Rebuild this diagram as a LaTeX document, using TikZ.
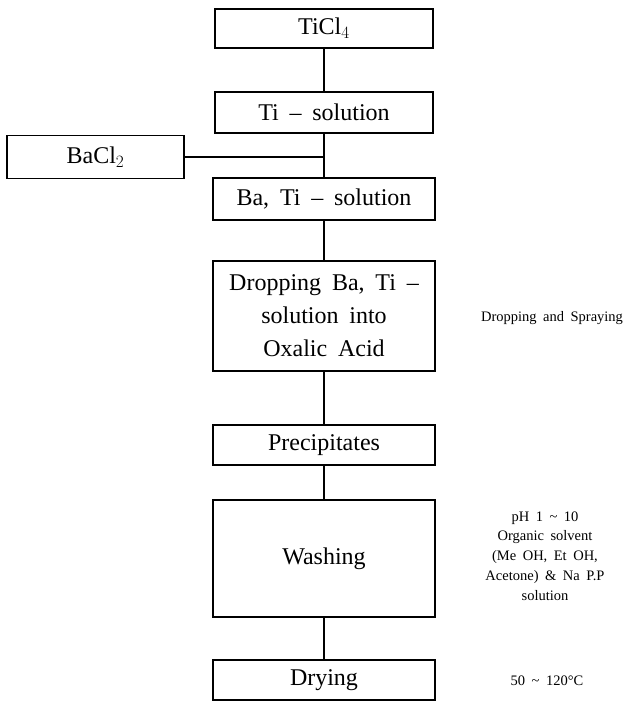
\documentclass[tikz,border=0pt]{standalone}
\usepackage{fontspec}
\setmainfont[WordSpace=1.8]{Liberation Serif}
\begin{document}
\begin{tikzpicture}[x=1pt,y=-1pt,
  box/.style={draw, line width=1.1pt, inner sep=0pt, align=center, font=\fontsize{24}{33}\selectfont},
  note/.style={inner sep=0pt, align=center, font=\fontsize{14.5}{19.8}\selectfont},
  conn/.style={line width=1.1pt}]
\useasboundingbox (0,0) rectangle (630,704);
\node[box, minimum width=218pt, minimum height=39pt] (ticl) at (324,28.5) {TiCl$_4$};
\node[box, minimum width=218pt, minimum height=41pt] (ti) at (324,112.5) {Ti -- solution};
\node[box, minimum width=177pt, minimum height=43pt] (bacl) at (95.5,157) {BaCl$_2$};
\node[box, minimum width=222pt, minimum height=42pt] (bati) at (324,199) {Ba, Ti -- solution};
\node[box, minimum width=222pt, minimum height=110pt] (drop) at (324,316) {Dropping Ba, Ti --\\solution into\\Oxalic Acid};
\node[box, minimum width=222pt, minimum height=40pt] (prec) at (324,445) {Precipitates};
\node[box, minimum width=222pt, minimum height=117pt] (wash) at (324,558.5) {Washing};
\node[box, minimum width=222pt, minimum height=40pt] (dry) at (324,680) {Drying};
\draw[conn] (ticl) -- (ti);
\draw[conn] (ti) -- (bati);
\draw[conn] (bacl.east) -- (bacl.east -| ti.south);
\draw[conn] (bati) -- (drop);
\draw[conn] (drop) -- (prec);
\draw[conn] (prec) -- (wash);
\draw[conn] (wash) -- (dry);
\node[note] (n1) at (552,318) {Dropping and Spraying};
\node[note] (n2) at (545,556) {pH 1 \textasciitilde\ 10\\Organic solvent\\(Me OH, Et OH,\\Acetone) \& Na P.P\\solution};
\node[note] (n3) at (547,681) {50 \textasciitilde\ 120\textdegree C};
\end{tikzpicture}
\end{document}
